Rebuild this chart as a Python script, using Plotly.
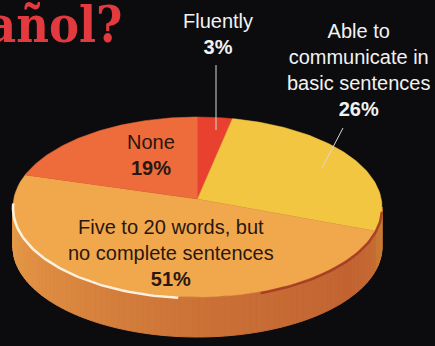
import numpy as np
import plotly.graph_objects as go

# ---- data ----
categories = ["Fluently", "Able to<br>communicate in<br>basic sentences",
              "Five to 20 words, but<br>no complete sentences", "None"]
values = [3, 26, 51, 19]
top_colors = ["#e8412f", "#f3c642", "#f1a84d", "#ee6b3b"]
title_text = "¿Hablas español?"

# ---- geometry / style ----
W, H = 435, 346
cx, cy, a, b = 197.5, 207.0, 184.5, 90.0
apex = (197.5, 199.0)
depth = 40.0
shade_target = np.array([176, 74, 40])


def rim(t_deg, dy=0.0):
    t = np.radians(t_deg)
    return cx + a * np.sin(t), cy - b * np.cos(t) + dy


def hex2rgb(h):
    h = h.lstrip("#")
    return np.array([int(h[i:i + 2], 16) for i in (0, 2, 4)])


def shade_k(t):
    # t in [90, 270]: 270 left (light), 180 front, ~120 darkest
    if t >= 180:
        return 0.12 + (270 - t) / 90 * 0.45
    if t >= 125:
        return 0.57 + (180 - t) / 55 * 0.15
    return 0.72 - (125 - t) / 35 * 0.15


total = float(sum(values))
bounds = np.concatenate([[0], np.cumsum(values)]) / total * 360.0

fig = go.Figure()

# side wall (visible front half 90..270 deg)
for i, col in enumerate(top_colors):
    t0, t1 = max(bounds[i], 90.0), min(bounds[i + 1], 270.0)
    if t1 <= t0:
        continue
    edges = np.arange(t0, t1, 2.0).tolist() + [t1]
    base = hex2rgb(col)
    for s0, s1 in zip(edges[:-1], edges[1:]):
        ts = np.linspace(s0, s1, 6)
        xt, yt = rim(ts)
        xb, yb = rim(ts[::-1], depth)
        k = shade_k((s0 + s1) / 2)
        rgb = (base * (1 - k) + shade_target * k).astype(int)
        c = "rgb(%d,%d,%d)" % tuple(rgb)
        fig.add_trace(go.Scatter(
            x=np.concatenate([xt, xb, xt[:1]]), y=np.concatenate([yt, yb, yt[:1]]),
            mode="lines", fill="toself", fillcolor=c,
            line=dict(color=c, width=1), hoverinfo="skip", showlegend=False))

# top face wedges
for i, col in enumerate(top_colors):
    ts = np.linspace(bounds[i], bounds[i + 1], 80)
    xr, yr = rim(ts)
    fig.add_trace(go.Scatter(
        x=np.concatenate([[apex[0]], xr, [apex[0]]]),
        y=np.concatenate([[apex[1]], yr, [apex[1]]]),
        mode="lines", fill="toself", fillcolor=col,
        line=dict(color=col, width=0.5), hoverinfo="skip", showlegend=False))

# rim highlight (left-front) and dark rim (right-front)
th = np.linspace(186, 273, 70)
xh, yh = rim(th, 1.2)
fig.add_trace(go.Scatter(x=xh, y=yh, mode="lines",
                         line=dict(color="rgba(255,245,225,0.95)", width=2.6),
                         hoverinfo="skip", showlegend=False))
td = np.linspace(92, 160, 60)
xd, yd = rim(td, 1.5)
fig.add_trace(go.Scatter(x=xd, y=yd, mode="lines",
                         line=dict(color="rgba(165,60,35,0.9)", width=2.5),
                         hoverinfo="skip", showlegend=False))

# ---- labels ----
lab_font = "Liberation Sans, Arial, sans-serif"
outside_pos = {0: (218, 34), 1: (358, 70)}
inside_pos = {3: (151, 155), 2: (171, 253)}
for i, (cat, v) in enumerate(zip(categories, values)):
    txt = f"{cat}<br><b>{v}%</b>"
    if i in outside_pos:
        x, y = outside_pos[i]
        color = "#f2f2f2"
    else:
        x, y = inside_pos[i]
        color = "#2a1710"
    fig.add_annotation(x=x, y=y, xref="x", yref="y", text=txt, showarrow=False,
                       xanchor="center", yanchor="middle", align="center",
                       font=dict(family=lab_font, size=20, color=color))

# leader lines
fig.add_shape(type="line", x0=216, y0=65, x1=216, y1=130, xref="x", yref="y",
              line=dict(color="#d8d8d8", width=1))
fig.add_shape(type="line", x0=343, y0=128, x1=322, y1=168, xref="x", yref="y",
              line=dict(color="#d8d8d8", width=1))

# partially visible headline
fig.add_annotation(x=124, y=56, xref="x", yref="y", text=f"<b>{title_text}</b>",
                   showarrow=False, xanchor="right", yanchor="bottom",
                   font=dict(family="DejaVu Serif Condensed, DejaVu Serif, serif",
                             size=50, color="#e23a3f"))

fig.update_layout(
    width=W, height=H, margin=dict(l=0, r=0, t=0, b=0),
    paper_bgcolor="#0c0c0f", plot_bgcolor="#0c0c0f",
    xaxis=dict(range=[0, W], visible=False, fixedrange=True),
    yaxis=dict(range=[H, 0], visible=False, fixedrange=True),
    showlegend=False,
)

fig.write_html("out.html")
